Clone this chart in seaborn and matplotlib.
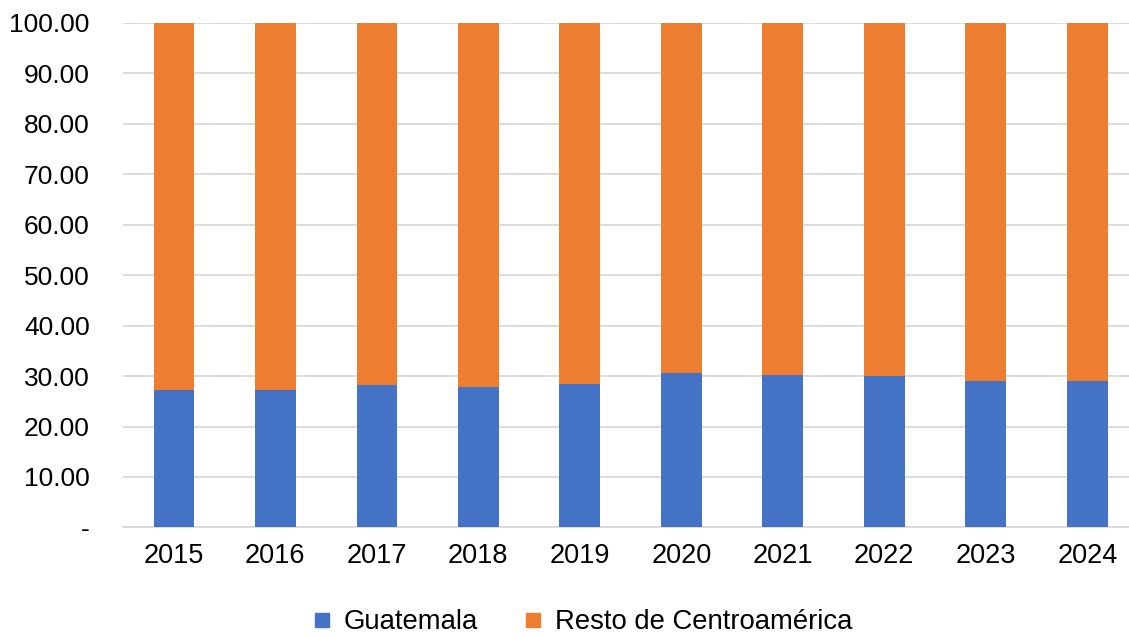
import matplotlib
matplotlib.use("Agg")
import matplotlib.pyplot as plt
import seaborn as sns
import pandas as pd
from matplotlib.lines import Line2D

# data (percent shares)
years = ["2015", "2016", "2017", "2018", "2019", "2020", "2021", "2022", "2023", "2024"]
guatemala = [27.3, 27.3, 28.2, 27.9, 28.5, 30.6, 30.3, 30.0, 29.1, 29.1]
resto = [72.7, 72.7, 71.8, 72.1, 71.5, 69.4, 69.7, 70.0, 70.9, 70.9]

blue = "#4472C4"
orange = "#ED7D31"

df = pd.DataFrame({"year": years, "Guatemala": guatemala, "Resto": resto})
df["total"] = df["Guatemala"] + df["Resto"]

sns.set_style("white")
plt.rcParams["font.family"] = ["Liberation Sans", "DejaVu Sans"]
plt.rcParams["text.color"] = "black"
plt.rcParams["xtick.color"] = "black"
plt.rcParams["ytick.color"] = "black"

fig = plt.figure(figsize=(11.29, 6.37), dpi=100)
# plot area runs a bit past the right edge, like the original
ax = fig.add_axes([0.109, 0.172, 0.899, 0.792])

# stacked bars: draw the total first, then Guatemala over it
sns.barplot(data=df, x="year", y="total", color=orange, width=0.4,
            saturation=1, linewidth=0, ax=ax, zorder=2)
sns.barplot(data=df, x="year", y="Guatemala", color=blue, width=0.4,
            saturation=1, linewidth=0, ax=ax, zorder=3)

ax.set_ylim(0, 100)
ax.set_xlim(-0.5, len(years) - 0.5)
yt = list(range(0, 101, 10))
ax.set_yticks(yt)
ax.set_yticklabels(["-"] + [f"{v:.2f}" for v in yt[1:]])
ax.yaxis.grid(True, color="#D9D9D9", linewidth=1.3, zorder=0)
ax.set_axisbelow(True)
for s in ["top", "right", "left"]:
    ax.spines[s].set_visible(False)
ax.spines["bottom"].set_color("#D9D9D9")
ax.spines["bottom"].set_linewidth(1.3)
ax.tick_params(axis="y", length=0, pad=24, labelsize=19)
ax.tick_params(axis="x", length=0, pad=11, labelsize=19.5)
ax.set_xlabel("")
ax.set_ylabel("")

handles = [Line2D([], [], marker="s", linestyle="", color=blue, markersize=10),
           Line2D([], [], marker="s", linestyle="", color=orange, markersize=10)]
fig.legend(handles, ["Guatemala", "Resto de Centroamérica"], loc="center",
           bbox_to_anchor=(0.515, 0.023), ncol=2, frameon=False, fontsize=19.8,
           handlelength=0.8, handletextpad=0.4, columnspacing=1.6)

fig.savefig("out.png", dpi=100)
